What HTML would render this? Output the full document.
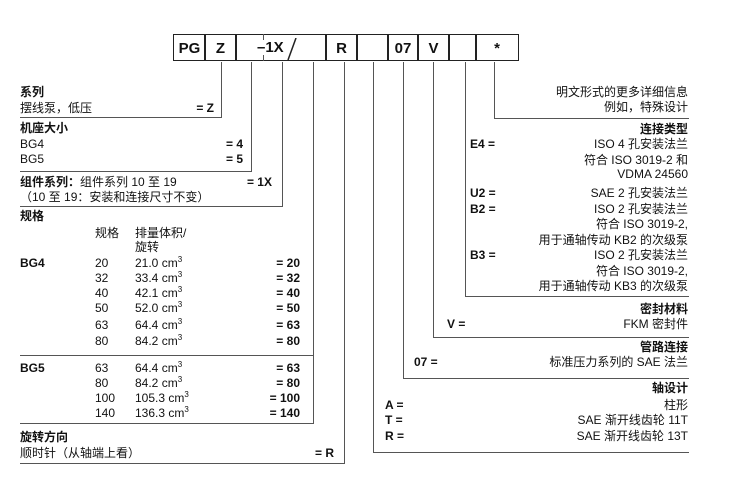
<!DOCTYPE html>
<html><head><meta charset="utf-8"><style>
body{margin:0;width:750px;height:504px;background:#fff;position:relative;overflow:hidden;font-family:"Liberation Sans","Noto Sans CJK SC",sans-serif;color:#111}
.t{position:absolute;font-size:12px;line-height:14px;white-space:nowrap}
.b{font-weight:bold}
.r{text-align:right}
.h{position:absolute;height:0;border-top:1.3px solid #555}
.v{position:absolute;width:0;border-left:1.3px solid #555}
.box{position:absolute;top:34px;height:27px;border:1.5px solid #222;font-weight:bold;font-size:15px;line-height:27px;text-align:center;box-sizing:border-box}
sup{font-size:8px;line-height:0}
</style></head><body>
<!-- boxes -->
<div class="box" style="left:173px;width:33px">PG</div>
<div class="box" style="left:204px;width:33px">Z</div>
<div class="box" style="left:235px;width:92px"></div>
<div class="box" style="left:325px;width:33px">R</div>
<div class="box" style="left:356px;width:33px"></div>
<div class="box" style="left:387px;width:32px">07</div>
<div class="box" style="left:417px;width:33px">V</div>
<div class="box" style="left:448px;width:29px"></div>
<div class="box" style="left:475px;width:44px">*</div>
<div class="t b" style="left:257px;top:40px;font-size:15px;line-height:16px">–1X</div>
<div class="v" style="left:263px;top:34px;height:6px"></div>
<div class="v" style="left:263px;top:55px;height:6px"></div>
<svg style="position:absolute;left:284px;top:38px" width="14" height="24"><line x1="12" y1="0" x2="4" y2="22" stroke="#222" stroke-width="1.5"/></svg>

<!-- left connectors -->
<div class="v" style="left:221px;top:62px;height:56px"></div>
<div class="h" style="left:20px;top:117px;width:202px"></div>
<div class="v" style="left:251px;top:62px;height:109px"></div>
<div class="h" style="left:20px;top:171px;width:232px"></div>
<div class="v" style="left:282px;top:62px;height:144px"></div>
<div class="h" style="left:20px;top:206px;width:263px"></div>
<div class="v" style="left:313px;top:62px;height:361px"></div>
<div class="h" style="left:20px;top:355px;width:294px"></div>
<div class="h" style="left:20px;top:423px;width:294px"></div>
<div class="v" style="left:344px;top:62px;height:401px"></div>
<div class="h" style="left:20px;top:463px;width:325px"></div>

<!-- right connectors -->
<div class="v" style="left:373px;top:62px;height:390px"></div>
<div class="h" style="left:373px;top:452px;width:316px"></div>
<div class="v" style="left:403px;top:62px;height:316px"></div>
<div class="h" style="left:403px;top:378px;width:286px"></div>
<div class="v" style="left:433px;top:62px;height:275px"></div>
<div class="h" style="left:433px;top:337px;width:256px"></div>
<div class="v" style="left:465px;top:62px;height:234px"></div>
<div class="h" style="left:465px;top:296px;width:224px"></div>
<div class="v" style="left:494px;top:62px;height:56px"></div>
<div class="h" style="left:494px;top:118px;width:195px"></div>

<!-- left text -->
<div class="t b" style="left:20px;top:85px">系列</div>
<div class="t" style="left:20px;top:101px">摆线泵，低压</div>
<div class="t b r" style="right:536px;top:101px">= Z</div>
<div class="t b" style="left:20px;top:121px">机座大小</div>
<div class="t" style="left:20px;top:137px">BG4</div>
<div class="t b r" style="right:507px;top:137px">= 4</div>
<div class="t" style="left:20px;top:152px">BG5</div>
<div class="t b r" style="right:507px;top:152px">= 5</div>
<div class="t" style="left:20px;top:175px"><b>组件系列：</b>组件系列 10 至 19</div>
<div class="t b r" style="right:478px;top:175px">= 1X</div>
<div class="t" style="left:20px;top:190px">（10 至 19：安装和连接尺寸不变）</div>
<div class="t b" style="left:20px;top:209px">规格</div>
<div class="t" style="left:95px;top:226px">规格</div>
<div class="t" style="left:135px;top:226px">排量体积/</div>
<div class="t" style="left:135px;top:240px">旋转</div>

<div class="t b" style="left:20px;top:256px">BG4</div>
<div class="t" style="left:95px;top:256px">20</div><div class="t" style="left:135px;top:256px">21.0 cm<sup>3</sup></div><div class="t b r" style="right:450px;top:256px">= 20</div>
<div class="t" style="left:95px;top:271px">32</div><div class="t" style="left:135px;top:271px">33.4 cm<sup>3</sup></div><div class="t b r" style="right:450px;top:271px">= 32</div>
<div class="t" style="left:95px;top:286px">40</div><div class="t" style="left:135px;top:286px">42.1 cm<sup>3</sup></div><div class="t b r" style="right:450px;top:286px">= 40</div>
<div class="t" style="left:95px;top:301px">50</div><div class="t" style="left:135px;top:301px">52.0 cm<sup>3</sup></div><div class="t b r" style="right:450px;top:301px">= 50</div>
<div class="t" style="left:95px;top:318px">63</div><div class="t" style="left:135px;top:318px">64.4 cm<sup>3</sup></div><div class="t b r" style="right:450px;top:318px">= 63</div>
<div class="t" style="left:95px;top:334px">80</div><div class="t" style="left:135px;top:334px">84.2 cm<sup>3</sup></div><div class="t b r" style="right:450px;top:334px">= 80</div>

<div class="t b" style="left:20px;top:361px">BG5</div>
<div class="t" style="left:95px;top:361px">63</div><div class="t" style="left:135px;top:361px">64.4 cm<sup>3</sup></div><div class="t b r" style="right:450px;top:361px">= 63</div>
<div class="t" style="left:95px;top:376px">80</div><div class="t" style="left:135px;top:376px">84.2 cm<sup>3</sup></div><div class="t b r" style="right:450px;top:376px">= 80</div>
<div class="t" style="left:95px;top:391px">100</div><div class="t" style="left:135px;top:391px">105.3 cm<sup>3</sup></div><div class="t b r" style="right:450px;top:391px">= 100</div>
<div class="t" style="left:95px;top:406px">140</div><div class="t" style="left:135px;top:406px">136.3 cm<sup>3</sup></div><div class="t b r" style="right:450px;top:406px">= 140</div>

<div class="t b" style="left:20px;top:430px">旋转方向</div>
<div class="t" style="left:20px;top:446px">顺时针（从轴端上看）</div>
<div class="t b r" style="right:416px;top:446px">= R</div>

<!-- right text -->
<div class="t r" style="right:62px;top:85px">明文形式的更多详细信息</div>
<div class="t r" style="right:62px;top:100px">例如，特殊设计</div>
<div class="t b r" style="right:62px;top:122px">连接类型</div>
<div class="t b" style="left:470px;top:137px">E4 =</div>
<div class="t r" style="right:62px;top:137px">ISO 4 孔安装法兰</div>
<div class="t r" style="right:62px;top:153px">符合 ISO 3019-2 和</div>
<div class="t r" style="right:62px;top:167px">VDMA 24560</div>
<div class="t b" style="left:470px;top:186px">U2 =</div>
<div class="t r" style="right:62px;top:186px">SAE 2 孔安装法兰</div>
<div class="t b" style="left:470px;top:202px">B2 =</div>
<div class="t r" style="right:62px;top:202px">ISO 2 孔安装法兰</div>
<div class="t r" style="right:62px;top:217px">符合 ISO 3019-2,</div>
<div class="t r" style="right:62px;top:233px">用于通轴传动 KB2 的次级泵</div>
<div class="t b" style="left:470px;top:248px">B3 =</div>
<div class="t r" style="right:62px;top:248px">ISO 2 孔安装法兰</div>
<div class="t r" style="right:62px;top:264px">符合 ISO 3019-2,</div>
<div class="t r" style="right:62px;top:279px">用于通轴传动 KB3 的次级泵</div>
<div class="t b r" style="right:62px;top:302px">密封材料</div>
<div class="t b" style="left:447px;top:317px">V =</div>
<div class="t r" style="right:62px;top:317px">FKM 密封件</div>
<div class="t b r" style="right:62px;top:340px">管路连接</div>
<div class="t b" style="left:414px;top:355px">07 =</div>
<div class="t r" style="right:62px;top:355px">标准压力系列的 SAE 法兰</div>
<div class="t b r" style="right:62px;top:381px">轴设计</div>
<div class="t b" style="left:385px;top:398px">A =</div>
<div class="t r" style="right:62px;top:398px">柱形</div>
<div class="t b" style="left:385px;top:413px">T =</div>
<div class="t r" style="right:62px;top:413px">SAE 渐开线齿轮 11T</div>
<div class="t b" style="left:385px;top:429px">R =</div>
<div class="t r" style="right:62px;top:429px">SAE 渐开线齿轮 13T</div>
</body></html>
